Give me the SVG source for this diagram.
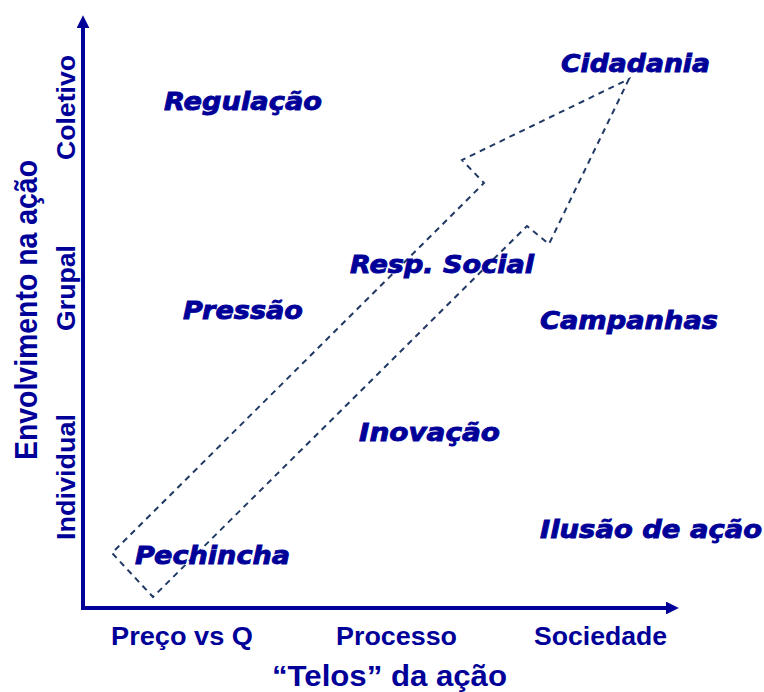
<svg xmlns="http://www.w3.org/2000/svg" width="764" height="692" viewBox="0 0 764 692">
<defs>
<style>
.lbl{font-family:"DejaVu Sans",sans-serif;font-weight:bold;font-style:italic;font-size:25px;fill:#000099;stroke:#000099;stroke-width:0.9px}
.ax{font-family:"Liberation Sans",Arial,sans-serif;font-weight:bold;fill:#000099}
.axis{stroke:#000099;stroke-width:4;fill:none}
</style>
<marker id="ah" viewBox="0 0 10 10" refX="0" refY="5" markerWidth="3.2" markerHeight="3.2" orient="auto" markerUnits="strokeWidth">
<path d="M0,0 L10,5 L0,10 Z" fill="#000099"/>
</marker>
</defs>
<rect width="764" height="692" fill="#ffffff"/>
<g id="connectors">
<line class="axis" x1="83" y1="610" x2="83" y2="28" marker-end="url(#ah)"/>
<line class="axis" x1="81" y1="608" x2="666" y2="608" marker-end="url(#ah)"/>
<polygon points="629,79 549,244 527,226 153,597 112,553 484,183 462,160" fill="none" stroke="#1f3864" stroke-width="2" stroke-dasharray="6,5"/>
</g>
<g id="cidadania"><text class="lbl" x="561" y="72" textLength="149" lengthAdjust="spacingAndGlyphs">Cidadania</text></g>
<g id="regulacao"><text class="lbl" x="164" y="110" textLength="158" lengthAdjust="spacingAndGlyphs">Regulação</text></g>
<g id="resp-social"><text class="lbl" x="350" y="273" textLength="184" lengthAdjust="spacingAndGlyphs">Resp. Social</text></g>
<g id="pressao"><text class="lbl" x="183" y="319" textLength="120" lengthAdjust="spacingAndGlyphs">Pressão</text></g>
<g id="campanhas"><text class="lbl" x="540" y="329" textLength="178" lengthAdjust="spacingAndGlyphs">Campanhas</text></g>
<g id="inovacao"><text class="lbl" x="359" y="441" textLength="141" lengthAdjust="spacingAndGlyphs">Inovação</text></g>
<g id="ilusao"><text class="lbl" x="540" y="538" textLength="222" lengthAdjust="spacingAndGlyphs">Ilusão de ação</text></g>
<g id="pechincha"><text class="lbl" x="135" y="564" textLength="155" lengthAdjust="spacingAndGlyphs">Pechincha</text></g>
<g id="x-labels">
<text class="ax" x="111" y="645" font-size="26" textLength="142" lengthAdjust="spacingAndGlyphs">Preço vs Q</text>
<text class="ax" x="336" y="645" font-size="26" textLength="121" lengthAdjust="spacingAndGlyphs">Processo</text>
<text class="ax" x="534" y="645" font-size="26" textLength="133" lengthAdjust="spacingAndGlyphs">Sociedade</text>
<text class="ax" x="272" y="686" font-size="29" textLength="235" lengthAdjust="spacingAndGlyphs">“Telos” da ação</text>
</g>
<g id="y-labels">
<text class="ax" transform="translate(37,460) rotate(-90)" font-size="31" textLength="300" lengthAdjust="spacingAndGlyphs">Envolvimento na ação</text>
<text class="ax" transform="translate(75,160) rotate(-90)" font-size="26" textLength="105" lengthAdjust="spacingAndGlyphs">Coletivo</text>
<text class="ax" transform="translate(75,331) rotate(-90)" font-size="26" textLength="86" lengthAdjust="spacingAndGlyphs">Grupal</text>
<text class="ax" transform="translate(75,540) rotate(-90)" font-size="26" textLength="126" lengthAdjust="spacingAndGlyphs">Individual</text>
</g>
</svg>
